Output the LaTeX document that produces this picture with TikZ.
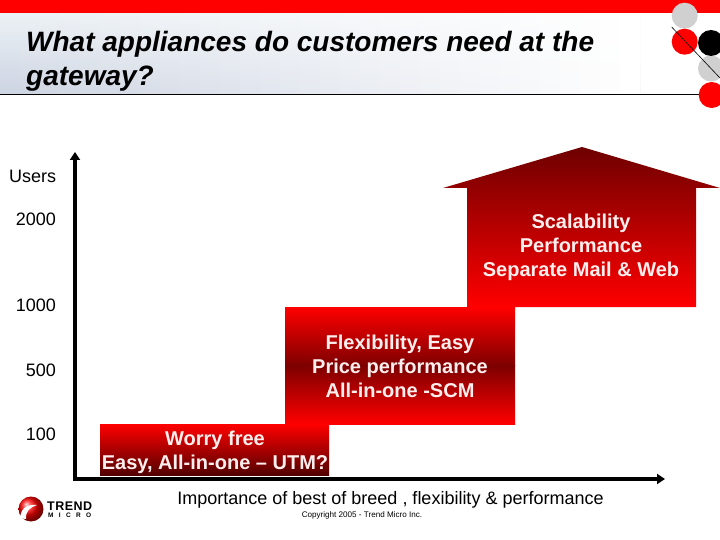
\documentclass[tikz,border=0pt]{standalone}
\usepackage{fontspec}
\setmainfont{Liberation Sans}
\usetikzlibrary{arrows.meta}
\definecolor{tmred}{RGB}{255,0,0}
\definecolor{tmdark}{RGB}{110,0,0}
\definecolor{tmmid}{RGB}{125,0,0}
\definecolor{tmgrey}{RGB}{208,208,208}
\definecolor{bandtop}{RGB}{236,241,245}
\definecolor{bandbot}{RGB}{205,212,226}
\definecolor{steptxt}{RGB}{255,238,238}
\tikzset{
  x=1pt,y=-1pt,
  steptext/.style={text=steptxt,font=\fontsize{20}{24}\selectfont\bfseries,align=center,inner sep=0pt},
  axislabel/.style={font=\fontsize{18}{20}\selectfont,inner sep=0pt,text=black},
  axisline/.style={draw=black,line width=3.5pt,-{Triangle[length=8pt,width=10pt,inset=0pt]}},
}
\begin{document}
\begin{tikzpicture}
\useasboundingbox (0,0) rectangle (720,540);
\fill[white] (0,0) rectangle (720,540);
% header band
\fill[top color=bandtop,bottom color=bandbot] (0,13) rectangle (640,94);
\foreach \i in {0,...,31} {
  \pgfmathsetmacro{\op}{\i/31}
  \fill[white,fill opacity=\op] ({\i*20},13) rectangle ({\i*20+20},94);
}
\fill[tmred] (0,0) rectangle (720,13);
\draw[black,line width=0.8pt] (0,94.5) -- (705,94.5);
\node[anchor=north west,inner sep=0pt,align=left,font=\fontsize{28}{34}\selectfont\bfseries\itshape] (title) at (26,31) {What appliances do customers need at the\\gateway?};
% corner circles
\fill[tmgrey] (684.7,15.7) circle (13);
\fill[tmgrey] (711,68.5) circle (13);
\fill[black] (711,43) circle (13);
\fill[tmred] (684.7,41.7) circle (13);
\fill[tmred] (711.7,95) circle (13);
\coordinate (slashA) at (671.7,27);
\coordinate (slashB) at (720,78);
\draw[black,line width=0.6pt] (slashA) -- (slashB);
% steps
\path[top color=tmdark,bottom color=tmred] (443,188) -- (582,147) -- (720,188) -- (696,188) -- (696,307) -- (467,307) -- (467,188) -- cycle;
\fill[top color=tmred,bottom color=tmmid] (285,307) rectangle (515,366);
\fill[top color=tmmid,bottom color=tmred] (285,365.5) rectangle (515,424);
\fill[top color=tmred,bottom color=tmdark!75!black] (100,424) rectangle (329,475);
% axes
\coordinate (origin) at (75,479);
\coordinate (ytip) at (75,152);
\coordinate (xtip) at (665,479);
\draw[axisline] (73.25,479) -- (xtip);
\draw[axisline] (75,480.75) -- (ytip);
% labels
\node[axislabel,anchor=west] (users) at (9,176) {Users};
\node[axislabel,anchor=east] (y2000) at (56,219) {2000};
\node[axislabel,anchor=east] (y1000) at (56,305) {1000};
\node[axislabel,anchor=east] (y500) at (56,370) {500};
\node[axislabel,anchor=east] (y100) at (56,434) {100};
\node[steptext] (top) at (581,247) {Scalability\\Performance\\Separate Mail \& Web};
\node[steptext] (mid) at (400,366) {Flexibility, Easy\\Price performance\\All-in-one -SCM};
\node[steptext] (low) at (215,452) {Worry free\\Easy, All-in-one – UTM?};
\node[axislabel] (imp) at (390.5,499.5) {Importance of best of breed , flexibility \& performance};
\node[font=\fontsize{8.1}{9}\selectfont,inner sep=0pt] (copy) at (362,515) {Copyright 2005 - Trend Micro Inc.};
% logo
\shade[ball color=tmred] (31,509) circle (12.5);
\fill[white] (20,518) .. controls (21,508) and (27,504) .. (37,505) .. controls (30,507) and (25,512) .. (26,519) -- cycle;
\node[anchor=west,inner sep=0pt,font=\fontsize{12.5}{12}\selectfont\bfseries] (trend) at (47,506.5) {\makebox[45pt][s]{T\hfill R\hfill E\hfill N\hfill D}};
\node[anchor=west,inner sep=0pt,font=\fontsize{6.5}{6}\selectfont\bfseries] (micro) at (48,515.5) {\makebox[43pt][s]{M\hfill I\hfill C\hfill R\hfill O}};
\end{tikzpicture}
\end{document}
